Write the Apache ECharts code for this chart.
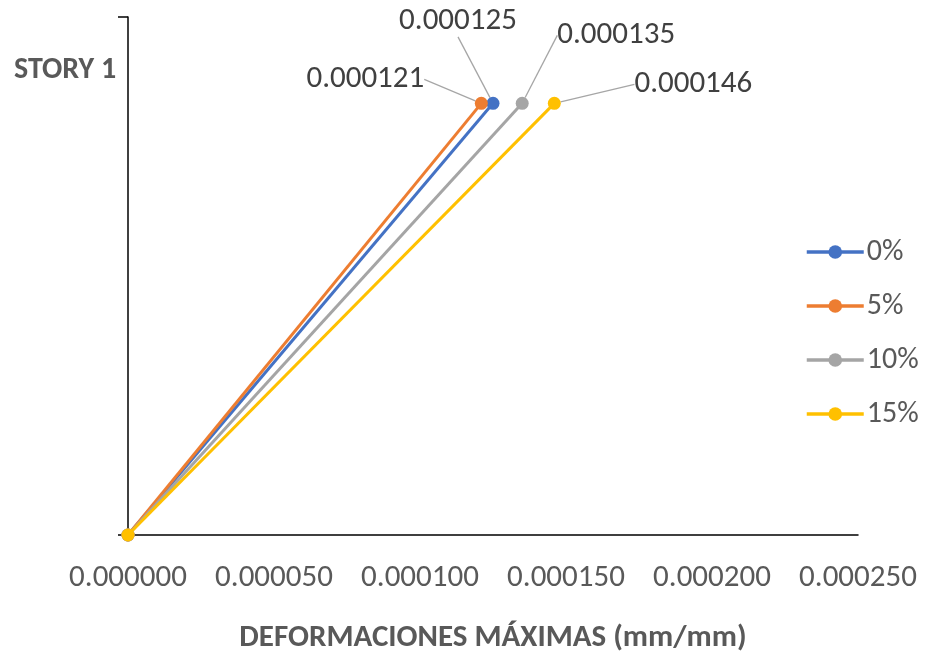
<!DOCTYPE html>
<html>
<head>
<meta charset="utf-8">
<script src="https://cdn.jsdelivr.net/npm/echarts@6/dist/echarts.min.js"></script>
<style>
  html, body { margin: 0; padding: 0; background: #fff; }
  #chart { width: 930px; height: 653px; }
</style>
</head>
<body>
<div id="chart"></div>
<script>
// Maximum deformation of story 1 for each percentage
const seriesNames = ['0%', '5%', '10%', '15%'];
const storyTop = [0.000125, 0.000121, 0.000135, 0.000146];
const storyBase = [0, 0, 0, 0];
const storyLevels = [0, 1];
const xTicks = [0, 0.00005, 0.0001, 0.00015, 0.0002, 0.00025];
const colors = ['#4472C4', '#ED7D31', '#A5A5A5', '#FFC000'];
// label offsets (dx, dy) for the value labels at the top point
const labelOffsets = [[-35, -55], [-116, 3], [94, -41], [139, 8]];

const FONT = "Carlito, Calibri, 'Open Sans', sans-serif";
const GREY = '#595959';

const chart = echarts.init(document.getElementById('chart'), null, { renderer: 'canvas' });

const series = seriesNames.map((name, i) => ({
  name,
  type: 'line',
  data: [
    [storyBase[i], storyLevels[0]],
    { value: [storyTop[i], storyLevels[1]], label: { show: true } }
  ],
  symbol: 'circle',
  symbolSize: 13,
  lineStyle: { color: colors[i], width: 3 },
  itemStyle: { color: colors[i] },
  label: {
    show: false,
    position: 'top',
    formatter: p => p.value[0].toFixed(6),
    color: '#404040',
    fontFamily: FONT,
    fontSize: 31
  },
  labelLine: {
    show: true,
    lineStyle: { color: '#A6A6A6', width: 1.3 }
  },
  labelLayout: p => p.dataIndex === 1 ? { dx: labelOffsets[i][0], dy: labelOffsets[i][1] } : {},
  z: 2 + i
}));

chart.setOption({
  animation: false,
  backgroundColor: '#fff',
  color: colors,
  grid: { left: 128, right: 72, top: 17, bottom: 118, containLabel: false, outerBoundsMode: 'none' },
  legend: {
    orient: 'vertical',
    left: 800,
    top: 232,
    itemWidth: 57,
    itemHeight: 17,
    itemGap: 24,
    lineStyle: { width: 3.5 },
    textStyle: { color: GREY, fontFamily: FONT, fontSize: 30, padding: [0, 0, 0, -2] },
    data: seriesNames
  },
  xAxis: {
    type: 'value',
    min: xTicks[0],
    max: xTicks[xTicks.length - 1],
    interval: xTicks[1] - xTicks[0],
    splitLine: { show: false },
    axisTick: { show: false },
    axisLine: { show: true, onZero: false, lineStyle: { color: '#000', width: 1.5 } },
    axisLabel: {
      color: GREY,
      fontFamily: FONT,
      fontSize: 31,
      margin: 28,
      formatter: v => v.toFixed(6)
    },
    name: 'DEFORMACIONES MÁXIMAS (mm/mm)',
    nameLocation: 'middle',
    nameGap: 88,
    nameTextStyle: { color: GREY, fontFamily: FONT, fontSize: 31, fontWeight: 'bold' }
  },
  yAxis: {
    type: 'value',
    min: 0,
    max: 1.2,
    interval: 1.2,
    splitLine: { show: false },
    axisLabel: { show: false },
    axisTick: { show: true, length: 10, lineStyle: { color: '#000', width: 1.5 } },
    axisLine: { show: true, lineStyle: { color: '#000', width: 1.5 } }
  },
  graphic: [{
    type: 'text',
    left: 14,
    top: 55,
    style: {
      text: 'STORY 1',
      fill: GREY,
      font: "bold 30px " + FONT
    }
  }],
  series
});
</script>
</body>
</html>
